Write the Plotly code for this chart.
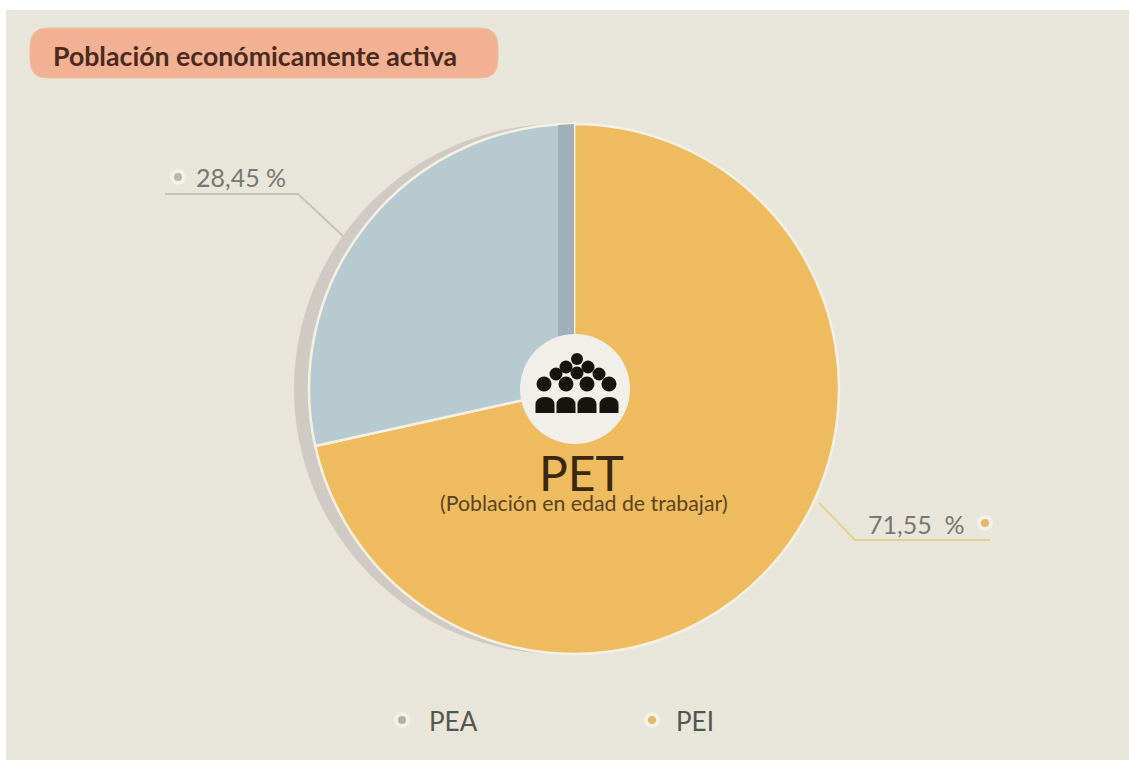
import plotly.graph_objects as go

W, H = 1129, 760
categories = ["PEI", "PEA"]
values = [71.55, 28.45]
slice_colors = ["#EFBB5F", "#B7CAD0"]
value_labels = ["71,55 \u00a0%", "28,45 %"]
title_text = "Población económicamente activa"
center_title = "PET"
center_sub = "(Población en edad de trabajar)"

CX, CY, R = 574, 389, 265

fig = go.Figure()

fig.add_trace(go.Pie(
    labels=categories, values=values, sort=False, direction="clockwise", rotation=0,
    marker=dict(colors=slice_colors, line=dict(color="#F4F1E4", width=2.5)),
    textinfo="none", hoverinfo="label+percent", showlegend=False,
    domain=dict(x=[(CX - R) / W, (CX + R) / W], y=[1 - (CY + R) / H, 1 - (CY - R) / H]),
))

# dots of the value labels and the legend (halo + core)
dot_x = [985, 178, 652, 402]
dot_y = [523, 177, 720, 720]
dot_c = ["#E2B968", "#B4B8B4", "#E2B968", "#B0B0AE"]
fig.add_trace(go.Scatter(x=dot_x, y=dot_y, mode="markers", showlegend=False, hoverinfo="skip",
                         marker=dict(size=16, color="rgba(250,248,240,0.6)")))
fig.add_trace(go.Scatter(x=dot_x, y=dot_y, mode="markers", showlegend=False, hoverinfo="skip",
                         marker=dict(size=8, color=dot_c)))

shapes = []
def circle(cx, cy, r, color, layer="above"):
    shapes.append(dict(type="circle", xref="x", yref="y", x0=cx - r, x1=cx + r, y0=cy - r, y1=cy + r,
                       fillcolor=color, line=dict(width=0), layer=layer))
def path(d, fill=None, line=None, width=0, layer="above"):
    shapes.append(dict(type="path", xref="x", yref="y", path=d, fillcolor=fill or "rgba(0,0,0,0)",
                       line=dict(color=line or "rgba(0,0,0,0)", width=width), layer=layer))

# panel, badge, shadow
shapes.append(dict(type="rect", xref="x", yref="y", x0=6, x1=W, y0=10, y1=H,
                   fillcolor="#E8E6DB", line=dict(width=0), layer="below"))
path("M48,28 L480,28 Q498,28 498,46 L498,60 Q498,78 480,78 L48,78 Q30,78 30,60 L30,46 Q30,28 48,28 Z",
     fill="#F3B193", line="#EFBDA5", width=1, layer="below")
circle(559, 389, 265, "#CFCBC4", layer="below")

# strip on the upper edge of the blue slice
path("M558,125 L574,124 L574,345 L558,345 Z", fill="#9FB0B8")

# leader lines
path("M165,194 L298,194 L343,236", line="#C4C3BA", width=2, layer="below")
path("M819,503 L855,540 L990,540", line="#E6D28F", width=2, layer="below")

# centre disc + people icon
circle(575, 389, 55, "#F1EFEA")
ink = "#17130E"
for cx, cy, r in [(577, 359, 6), (566, 367, 6.5), (588, 367, 6.5), (556, 374, 6.5), (577, 373, 6.5), (599, 374, 6.5),
                  (544, 384, 7.5), (566, 384, 7.5), (587, 384, 7.5), (609, 384, 7.5)]:
    circle(cx, cy, r, ink)
for cx in [545, 566, 587, 609]:
    path(f"M{cx-9.5},413 L{cx-9.5},405 Q{cx-9.5},397 {cx},397 Q{cx+9.5},397 {cx+9.5},405 L{cx+9.5},413 Z", fill=ink)

FONT = "Lato"
def text(x, y, s, size, color, anchor="left", bold=False):
    fig.add_annotation(x=x, y=y, xref="x", yref="y", text=f"<b>{s}</b>" if bold else s, showarrow=False,
                       xanchor=anchor, yanchor="middle", font=dict(family=FONT, size=size, color=color))

text(51, 56, title_text, 26.7, "#4A2A1C", bold=True)
text(194, 177, value_labels[1], 25, "#77776F")
text(866, 524, value_labels[0], 25, "#77776F")
text(427, 721, categories[1], 26, "#55554F")
text(674, 721, categories[0], 26, "#55554F")
text(581, 472, center_title, 48, "#3A2812", anchor="center")
text(584, 503, center_sub, 21.3, "#5A4320", anchor="center")

fig.update_layout(
    width=W, height=H, margin=dict(l=0, r=0, t=0, b=0), paper_bgcolor="#FFFFFF", plot_bgcolor="rgba(0,0,0,0)",
    xaxis=dict(range=[0, W], visible=False, fixedrange=True),
    yaxis=dict(range=[H, 0], visible=False, fixedrange=True),
    shapes=shapes, showlegend=False,
)
fig.write_html("out.html", config=dict(displayModeBar=False),
               post_script="document.body.style.margin='0';document.documentElement.style.overflow='hidden';")
